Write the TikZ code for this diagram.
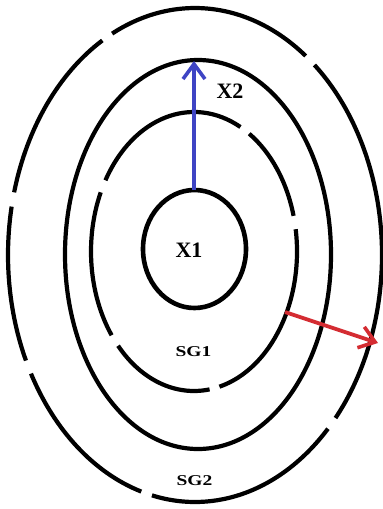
\documentclass[tikz,border=0pt]{standalone}
\usepackage{fontspec}
\setmainfont{Liberation Serif}
\usetikzlibrary{arrows.meta}
\definecolor{arrblue}{RGB}{62,68,196}
\definecolor{arrred}{RGB}{212,44,50}
\tikzset{
  ring/.style={line width=4.2pt, black},
  bigl/.style={font=\bfseries\fontsize{22}{24}\selectfont, inner sep=0pt},
  smalll/.style={font=\bfseries\fontsize{15}{17}\selectfont, inner sep=0pt, xscale=1.3},
  vec/.style={line width=3.8pt, -{Straight Barb[length=15pt, width=22pt, line width=3.6pt]}}
}
\begin{document}
\begin{tikzpicture}[x=1pt, y=-1pt]
\useasboundingbox (0,0) rectangle (383,509);
% innermost ellipse
\draw[ring, line width=4.6pt] (194.5,249) ellipse [x radius=51.5, y radius=59];
% third ellipse (solid)
\draw[ring] (198,254.5) ellipse [x radius=133, y radius=194.5];
% second ellipse (broken)
\foreach \a/\b in {81.3/137.5, 143.1/205.1, 210.7/296.8, 302.4/345.2, 350.8/435.7}
  \draw[ring] (194,251.5) ++(\a:103 and 139.5) arc[start angle=\a, end angle=\b, x radius=103, y radius=139.5];
% outer ellipse (broken)
\foreach \a/\b in {44.7/103.3, 106.7/151.3, 154.7/191.3, 194.7/240.3, 243.7/306.3, 309.7/401.3}
  \draw[ring] (195,255) ++(\a:187 and 247) arc[start angle=\a, end angle=\b, x radius=187, y radius=247];
% arrows
\coordinate (b0) at (194,190);
\coordinate (b1) at (194,61);
\coordinate (r0) at (285,312);
\coordinate (r1) at (378,343);
\draw[vec, arrblue] (b0) -- (b1);
\draw[vec, arrred] (r0) -- (r1);
% labels
\node[bigl] (x1) at (189,250) {X1};
\node[bigl] (x2) at (230,91) {X2};
\node[smalll] (sg1) at (193.5,351.5) {SG1};
\node[smalll] (sg2) at (194.5,481) {SG2};
\end{tikzpicture}
\end{document}
